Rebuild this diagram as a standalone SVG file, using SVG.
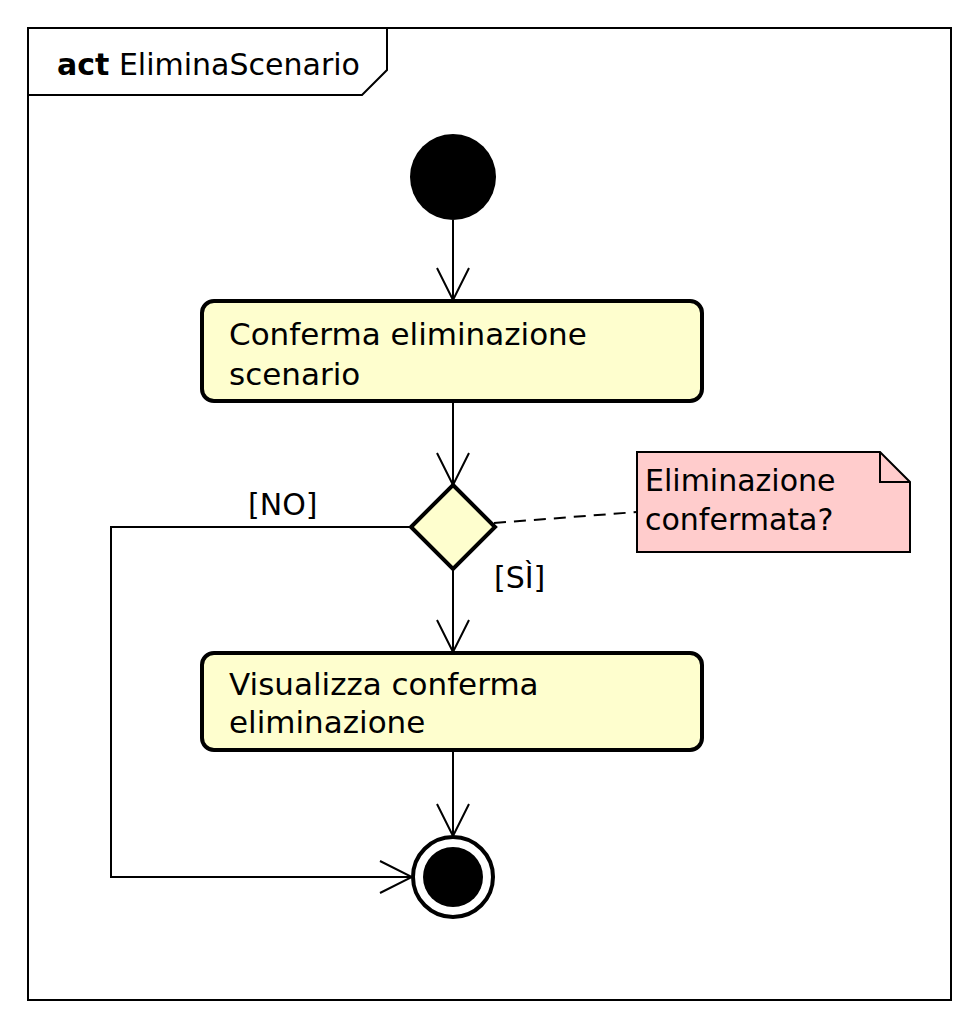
<svg xmlns="http://www.w3.org/2000/svg" width="977" height="1030" viewBox="0 0 977 1030">
<style>
text{font-family:"DejaVu Sans","Liberation Sans",sans-serif;font-size:30px;fill:#000}
.big{font-size:31px}
.act{fill:#FEFECE;stroke:#000;stroke-width:4}
.ln{fill:none;stroke:#000;stroke-width:2}
</style>
<defs>
<marker id="arr" markerWidth="36" markerHeight="36" refX="34" refY="18" viewBox="0 0 36 36" orient="auto" markerUnits="userSpaceOnUse">
<path d="M2,2 L34,18 L2,34" fill="none" stroke="#000" stroke-width="2"/>
</marker>
</defs>
<rect width="977" height="1030" fill="#fff"/>
<g id="frame">
<rect x="28" y="28" width="923" height="972" fill="none" stroke="#000" stroke-width="2"/>
<path d="M28,95 L362,95 L387,70 L387,28" class="ln"/>
<text x="57" y="75"><tspan font-weight="bold">act</tspan> EliminaScenario</text>
</g>
<g id="connectors">
<path d="M453,220 L453,300" class="ln" marker-end="url(#arr)"/>
<path d="M453,402 L453,485" class="ln" marker-end="url(#arr)"/>
<path d="M453,569 L453,652" class="ln" marker-end="url(#arr)"/>
<path d="M453,751 L453,836" class="ln" marker-end="url(#arr)"/>
<path d="M410,527 L111,527 L111,877 L412,877" class="ln" marker-end="url(#arr)"/>
<path d="M494,523 L637,512" class="ln" stroke-dasharray="12,8"/>
<text x="248" y="515">[NO]</text>
<text x="494" y="588">[SÌ]</text>
</g>
<g id="start"><circle cx="453" cy="177" r="43" fill="#000"/></g>
<g id="a1">
<rect x="202" y="301" width="500" height="100" rx="12" class="act"/>
<text class="big" x="229" y="345">Conferma eliminazione</text>
<text class="big" x="229" y="385">scenario</text>
</g>
<g id="decision"><path d="M453,485 L495,527 L453,569 L411,527 Z" class="act"/></g>
<g id="note">
<path d="M637,452 L880,452 L910,482 L910,552 L637,552 Z" fill="#FFCCCC" stroke="#000" stroke-width="2"/>
<path d="M880,452 L880,482 L910,482" class="ln"/>
<text x="645" y="491">Eliminazione</text>
<text x="645" y="530">confermata?</text>
</g>
<g id="a2">
<rect x="202" y="653" width="500" height="97" rx="12" class="act"/>
<text class="big" x="229" y="695">Visualizza conferma</text>
<text class="big" x="229" y="733">eliminazione</text>
</g>
<g id="end">
<circle cx="453" cy="877" r="40" fill="#fff" stroke="#000" stroke-width="4"/>
<circle cx="453" cy="877" r="30" fill="#000"/>
</g>
</svg>
